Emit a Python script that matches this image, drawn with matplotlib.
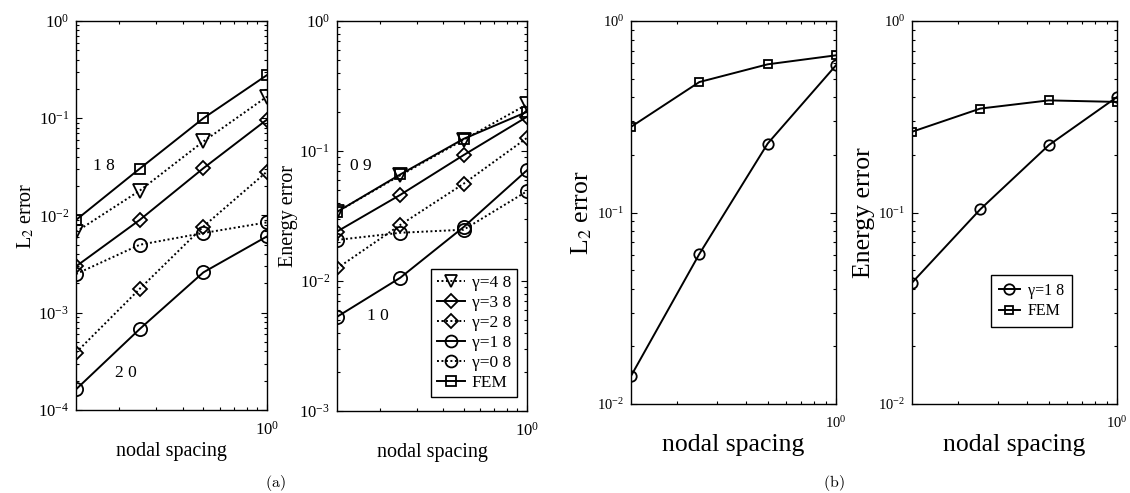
import matplotlib
matplotlib.use('Agg')
import matplotlib.pyplot as plt
from matplotlib.ticker import LogLocator, NullFormatter

plt.rcParams['font.family'] = ['Liberation Serif', 'DejaVu Serif']
plt.rcParams['mathtext.fontset'] = 'stix'

# ---------------- data ----------------
h = [0.125, 0.25, 0.5, 1.0]

# panel (a) left: L2 error
l2_g4 = [0.0068, 0.018, 0.0577, 0.167]
l2_g3 = [0.0030, 0.0090, 0.0306, 0.097]
l2_g2 = [0.00039, 0.00176, 0.0077, 0.0283]
l2_g1 = [0.000163, 0.00068, 0.0026, 0.0061]
l2_g0 = [0.0025, 0.0050, 0.0066, 0.0085]
l2_fem = [0.0090, 0.0303, 0.100, 0.278]

# panel (a) right: energy error
en_g4 = [0.034, 0.065, 0.122, 0.228]
en_g3 = [0.024, 0.046, 0.093, 0.183]
en_g2 = [0.0125, 0.027, 0.056, 0.126]
en_g1 = [0.0053, 0.0106, 0.026, 0.071]
en_g0 = [0.0207, 0.0235, 0.0248, 0.049]
en_fem = [0.034, 0.066, 0.124, 0.200]

# panel (b)
b_l2_g1 = [0.014, 0.0607, 0.229, 0.587]
b_l2_fem = [0.28, 0.48, 0.594, 0.662]
b_en_g1 = [0.043, 0.104, 0.2245, 0.401]
b_en_fem = [0.264, 0.349, 0.385, 0.378]

labels = ['γ=4 8', 'γ=3 8', 'γ=2 8', 'γ=1 8', 'γ=0 8', 'FEM']
slope_a_l2 = ['1 8', '2 0']
slope_a_en = ['0 9', '1 0']

# ---------------- styling helpers ----------------
DOT = (0, (1, 1.3))
LW = 1.4


def style(ax, ylim, tick_fs):
    ax.set_xscale('log')
    ax.set_yscale('log')
    ax.set_xlim(0.125, 1.0)
    ax.set_ylim(*ylim)
    ax.yaxis.set_major_locator(LogLocator(base=10, numticks=10))
    ax.yaxis.set_minor_locator(LogLocator(base=10, subs=range(2, 10), numticks=30))
    ax.xaxis.set_minor_locator(LogLocator(base=10, subs=range(2, 10), numticks=30))
    ax.xaxis.set_minor_formatter(NullFormatter())
    ax.yaxis.set_minor_formatter(NullFormatter())
    ax.tick_params(which='both', direction='in', top=True, right=True,
                   labelsize=tick_fs, width=0.8, colors='black')
    ax.tick_params(which='major', length=4, pad=5)
    ax.tick_params(axis='x', which='major', pad=8)
    ax.tick_params(which='minor', length=2.2)
    for s in ax.spines.values():
        s.set_linewidth(1.0)


def series(ax, y, marker, ls, ms, label=None):
    ax.plot(h, y, color='black', lw=LW, ls=ls, marker=marker, ms=ms,
            mfc='none', mec='black', mew=1.3, label=label)


fig = plt.figure(figsize=(11.3, 4.93), dpi=100)

ax1 = fig.add_axes([0.0673, 0.1684, 0.1690, 0.7890])
ax2 = fig.add_axes([0.2982, 0.1663, 0.1681, 0.7911])
ax3 = fig.add_axes([0.5584, 0.1805, 0.1814, 0.7769])
ax4 = fig.add_axes([0.8071, 0.1805, 0.1814, 0.7769])

# ----- panel 1 -----
series(ax1, l2_g4, 'v', DOT, 10, labels[0])
series(ax1, l2_g3, 'D', '-', 7.5, labels[1])
series(ax1, l2_g2, 'D', DOT, 7.5, labels[2])
series(ax1, l2_g1, 'o', '-', 9.5, labels[3])
series(ax1, l2_g0, 'o', DOT, 9.5, labels[4])
series(ax1, l2_fem, 's', '-', 7.5, labels[5])
style(ax1, (1e-4, 1.0), 12)
ax1.set_xlabel('nodal spacing', fontsize=14.5, labelpad=2)
ax1.set_ylabel(r'L$_2$ error', fontsize=14.5, labelpad=1)
ax1.text(0.147, 0.627, slope_a_l2[0], transform=ax1.transAxes, fontsize=12.5,
         ha='center', va='center')
ax1.text(0.262, 0.095, slope_a_l2[1], transform=ax1.transAxes, fontsize=12.5,
         ha='center', va='center')

# ----- panel 2 -----
series(ax2, en_g4, 'v', DOT, 10, labels[0])
series(ax2, en_g3, 'D', '-', 7.5, labels[1])
series(ax2, en_g2, 'D', DOT, 7.5, labels[2])
series(ax2, en_g1, 'o', '-', 9.5, labels[3])
series(ax2, en_g0, 'o', DOT, 9.5, labels[4])
series(ax2, en_fem, 's', '-', 7.5, labels[5])
style(ax2, (1e-3, 1.0), 12)
ax2.set_xlabel('nodal spacing', fontsize=14.5, labelpad=2)
ax2.set_ylabel('Energy error', fontsize=14.5, labelpad=1)
ax2.text(0.126, 0.628, slope_a_en[0], transform=ax2.transAxes, fontsize=12.5,
         ha='center', va='center')
ax2.text(0.216, 0.244, slope_a_en[1], transform=ax2.transAxes, fontsize=12.5,
         ha='center', va='center')
leg = ax2.legend(loc='lower right', bbox_to_anchor=(0.947, 0.036), borderaxespad=0,
                 fontsize=12.5, handlelength=1.6, handletextpad=0.4,
                 labelspacing=0.22, borderpad=0.35, fancybox=False,
                 edgecolor='black', framealpha=1, markerscale=0.9)
leg.get_frame().set_linewidth(1.0)

# ----- panel 3 -----
series(ax3, b_l2_g1, 'o', '-', 7.5, labels[3])
series(ax3, b_l2_fem, 's', '-', 6, labels[5])
style(ax3, (1e-2, 1.0), 10.5)
ax3.set_xlabel('nodal spacing', fontsize=18.5, labelpad=2)
ax3.set_ylabel(r'L$_2$ error', fontsize=18.5, labelpad=2)

# ----- panel 4 -----
series(ax4, b_en_g1, 'o', '-', 7.5, labels[3])
series(ax4, b_en_fem, 's', '-', 6, labels[5])
style(ax4, (1e-2, 1.0), 10.5)
ax4.set_xlabel('nodal spacing', fontsize=18.5, labelpad=2)
ax4.set_ylabel('Energy error', fontsize=18.5, labelpad=2)
leg4 = ax4.legend(loc='lower right', bbox_to_anchor=(0.78, 0.20), borderaxespad=0,
                  fontsize=11.5, handlelength=1.3, handletextpad=0.5,
                  labelspacing=0.3, borderpad=0.5, fancybox=False,
                  edgecolor='black', framealpha=1)
leg4.get_frame().set_linewidth(1.0)

# sub-figure labels
fig.text(275 / 1130, 1 - 483 / 493, r'$\mathrm{(a)}$', math_fontfamily='cm',
         fontsize=11.5, ha='center', va='center')
fig.text(834 / 1130, 1 - 483 / 493, r'$\mathrm{(b)}$', math_fontfamily='cm',
         fontsize=11.5, ha='center', va='center')

fig.savefig('out.png', dpi=100)
